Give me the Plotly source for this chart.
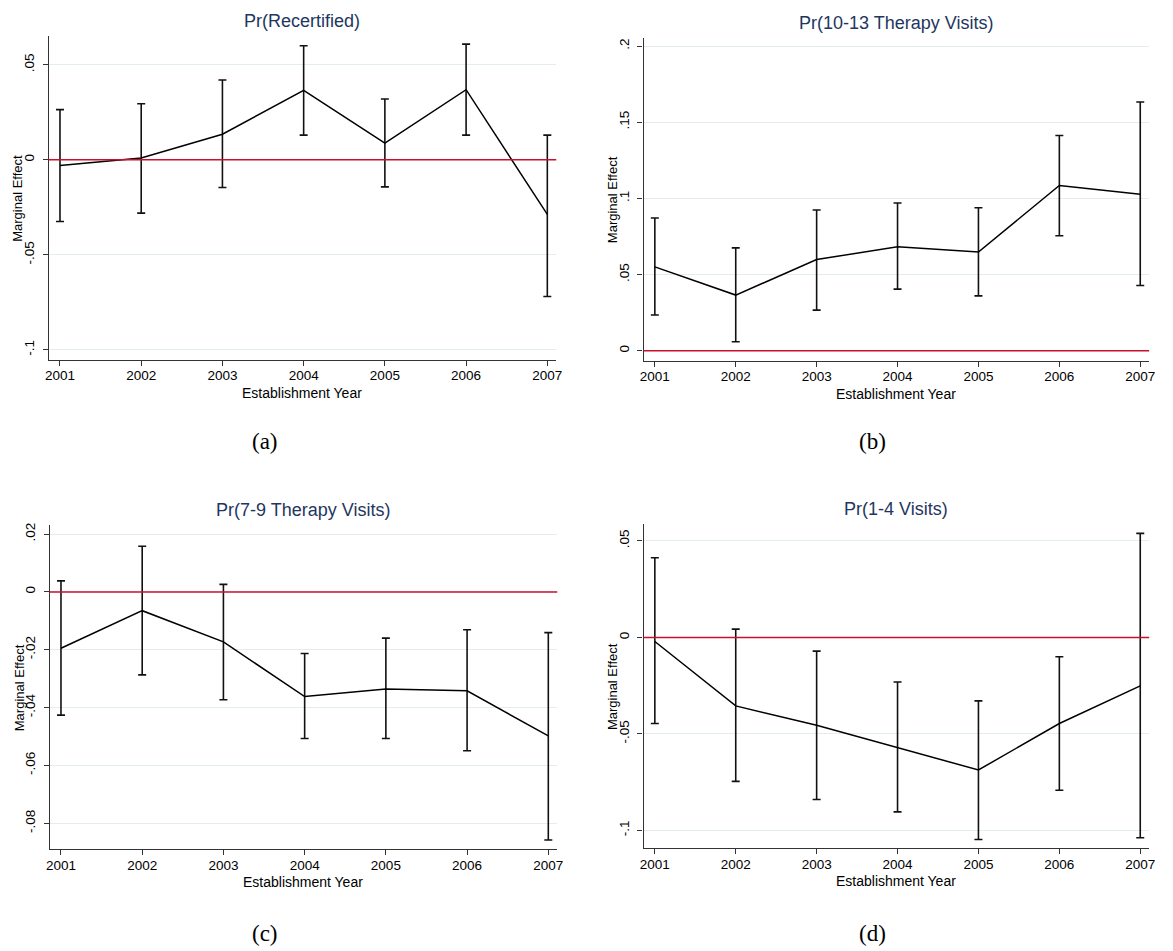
import plotly.graph_objects as go

years = [2001, 2002, 2003, 2004, 2005, 2006, 2007]
year_labels = ["2001", "2002", "2003", "2004", "2005", "2006", "2007"]

titles = ["Pr(Recertified)", "Pr(10-13 Therapy Visits)", "Pr(7-9 Therapy Visits)", "Pr(1-4 Visits)"]
captions = ["(a)", "(b)", "(c)", "(d)"]

# Panel (a) Pr(Recertified)
recert_est = [-0.003, 0.001, 0.0135, 0.0366, 0.0088, 0.0369, -0.0287]
recert_lo = [-0.0324, -0.028, -0.0145, 0.013, -0.0142, 0.013, -0.0719]
recert_hi = [0.0264, 0.0295, 0.042, 0.060, 0.032, 0.0609, 0.013]

# Panel (b) Pr(10-13 Therapy Visits)
v1013_est = [0.055, 0.0365, 0.0598, 0.0683, 0.0648, 0.1085, 0.1028]
v1013_lo = [0.0234, 0.0059, 0.0266, 0.0404, 0.036, 0.0755, 0.0428]
v1013_hi = [0.0871, 0.0675, 0.0924, 0.097, 0.0939, 0.1413, 0.1633]

# Panel (c) Pr(7-9 Therapy Visits)
v79_est = [-0.0195, -0.0065, -0.0173, -0.0362, -0.0336, -0.0342, -0.0498]
v79_lo = [-0.0426, -0.0287, -0.0373, -0.0507, -0.0507, -0.0549, -0.0858]
v79_hi = [0.0038, 0.0158, 0.0026, -0.0213, -0.016, -0.0131, -0.0141]

# Panel (d) Pr(1-4 Visits)
v14_est = [-0.0021, -0.0355, -0.0455, -0.057, -0.0687, -0.0446, -0.0251]
v14_lo = [-0.0446, -0.0746, -0.084, -0.0904, -0.1047, -0.0792, -0.1038]
v14_hi = [0.0413, 0.0043, -0.0071, -0.0231, -0.0329, -0.01, 0.0539]

a_ticks = [-0.1, -0.05, 0, 0.05]
a_ticktext = ["-.1", "-.05", "0", ".05"]
b_ticks = [0, 0.05, 0.1, 0.15, 0.2]
b_ticktext = ["0", ".05", ".1", ".15", ".2"]
c_ticks = [-0.08, -0.06, -0.04, -0.02, 0, 0.02]
c_ticktext = ["-.08", "-.06", "-.04", "-.02", "0", ".02"]
d_ticks = [-0.1, -0.05, 0, 0.05]
d_ticktext = ["-.1", "-.05", "0", ".05"]

xlabel = "Establishment Year"
ylabel = "Marginal Effect"

W, H = 1173, 951

panels = [
    dict(est=recert_est, lo=recert_lo, hi=recert_hi, tv=a_ticks, tt=a_ticktext,
         yr=[-0.1052, 0.0652], px=(45, 557), py=(33, 358)),
    dict(est=v1013_est, lo=v1013_lo, hi=v1013_hi, tv=b_ticks, tt=b_ticktext,
         yr=[-0.0067, 0.2054], px=(645, 1155), py=(35, 359)),
    dict(est=v79_est, lo=v79_lo, hi=v79_hi, tv=c_ticks, tt=c_ticktext,
         yr=[-0.089, 0.023], px=(46, 558), py=(524, 849)),
    dict(est=v14_est, lo=v14_lo, hi=v14_hi, tv=d_ticks, tt=d_ticktext,
         yr=[-0.1093, 0.0586], px=(645, 1155), py=(523, 848)),
]

caption_pos = [(263, 440), (876, 440), (263, 933), (876, 933)]

fig = go.Figure()
FONT = "Liberation Sans, Arial, sans-serif"
annotations = []
shapes = []
layout = {}

for i, p in enumerate(panels):
    n = "" if i == 0 else str(i + 1)
    xa, ya = "x" + n, "y" + n
    fig.add_trace(go.Scatter(
        x=years, y=p["est"], mode="lines", xaxis=xa, yaxis=ya,
        line=dict(color="#000000", width=1.5), showlegend=False,
        error_y=dict(type="data", symmetric=False,
                     array=[h - e for h, e in zip(p["hi"], p["est"])],
                     arrayminus=[e - l for e, l in zip(p["est"], p["lo"])],
                     color="#111111", thickness=1.6, width=4),
    ))
    x0, x1 = p["px"]
    y0, y1 = p["py"]
    layout["xaxis" + n] = dict(
        domain=[x0 / W, x1 / W], anchor=ya, range=[2000.86, 2007.11],
        tickvals=years, ticktext=year_labels, ticks="outside", ticklen=5,
        tickcolor="#333333", showline=True, linecolor="#333333", linewidth=1.2,
        showgrid=False, zeroline=False, ticklabelstandoff=-2,
        tickfont=dict(family=FONT, size=13.5, color="#000000"),
    )
    layout["yaxis" + n] = dict(
        domain=[1 - y1 / H, 1 - y0 / H], anchor=xa, range=p["yr"],
        tickvals=p["tv"], ticktext=p["tt"], ticks="outside", ticklen=5,
        tickcolor="#333333", showline=True, linecolor="#333333", linewidth=1.2,
        showgrid=True, gridcolor="#e3eded", gridwidth=1, zeroline=False,
        tickangle=-90, ticklabelstandoff=3,
        tickfont=dict(family=FONT, size=13.5, color="#000000"),
    )
    shapes.append(dict(type="line", xref=xa + " domain", x0=0, x1=1, yref=ya, y0=0, y1=0,
                       line=dict(color="#c8102e", width=1.5)))
    cx = (x0 + x1) / 2
    annotations.append(dict(text=titles[i], x=cx / W, y=1 - (y0 - 15) / H, xref="paper", yref="paper",
                            showarrow=False, xanchor="center", yanchor="middle",
                            font=dict(family=FONT, size=18, color="#1e3660")))
    annotations.append(dict(text=xlabel, x=cx / W, y=1 - (y1 + 33) / H, xref="paper", yref="paper",
                            showarrow=False, xanchor="center", yanchor="middle",
                            font=dict(family=FONT, size=14, color="#000000")))
    annotations.append(dict(text=ylabel, x=(x0 - 31) / W, y=1 - ((y0 + y1) / 2) / H, xref="paper", yref="paper",
                            showarrow=False, xanchor="center", yanchor="middle", textangle=-90,
                            font=dict(family=FONT, size=13, color="#000000")))
    cxp, cyp = caption_pos[i]
    annotations.append(dict(text=captions[i], x=cxp / W, y=1 - cyp / H, xref="paper", yref="paper",
                            showarrow=False, xanchor="center", yanchor="middle",
                            font=dict(family="Liberation Serif, Times New Roman, serif", size=23, color="#000000")))

fig.update_layout(
    width=W, height=H, margin=dict(l=0, r=0, t=0, b=0),
    paper_bgcolor="white", plot_bgcolor="white",
    annotations=annotations, shapes=shapes, showlegend=False,
    **layout,
)

fig.write_html("out.html")
